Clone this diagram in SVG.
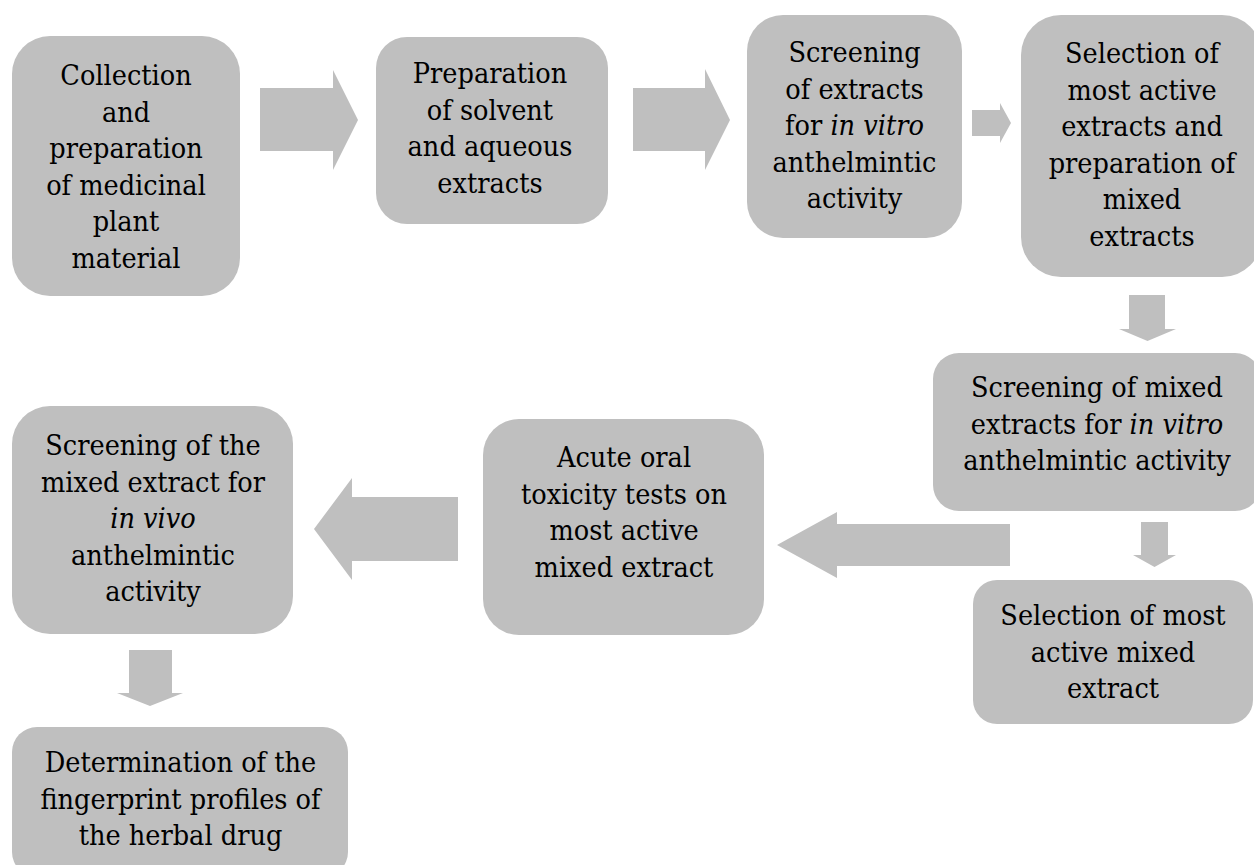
<svg xmlns="http://www.w3.org/2000/svg" width="1254" height="865" viewBox="0 0 1254 865">
<style>
.box{fill:#BFBFBF;}
.arr{fill:#BFBFBF;}
.t text{font-family:'DejaVu Serif Condensed','DejaVu Serif',serif;font-stretch:condensed;font-size:28.5px;fill:#000;text-anchor:middle;}
.i{font-style:italic;}
</style>
<rect width="1254" height="865" fill="#FFFFFF"/>
<g id="connectors">
<polygon class="arr" points="260,88 333,88 333,70 358,120 333,170 333,151 260,151"/>
<polygon class="arr" points="633,88 705,88 705,69 730,120 705,170 705,151 633,151"/>
<polygon class="arr" points="972,110 1000,110 1000,103 1011,123 1000,143 1000,136 972,136"/>
<polygon class="arr" points="1129,295 1165,295 1165,329 1176,329 1147.5,341 1119,329 1129,329"/>
<polygon class="arr" points="1141,522 1168,522 1168,555 1176,555 1154.5,567 1133,555 1141,555"/>
<polygon class="arr" points="1010,524 837,524 837,512 777,545 837,578 837,566 1010,566"/>
<polygon class="arr" points="458,497 352,497 352,478 314,529 352,580 352,561 458,561"/>
<polygon class="arr" points="129,650 172,650 172,693 183,693 150,706 117,693 129,693"/>
</g>
<g id="n1" class="t">
<rect class="box" x="12" y="36" width="228" height="260" rx="38"/>
<text x="126" y="85">Collection</text>
<text x="126" y="121.6">and</text>
<text x="126" y="158.2">preparation</text>
<text x="126" y="194.8">of medicinal</text>
<text x="126" y="231.4">plant</text>
<text x="126" y="268">material</text>
</g>
<g id="n2" class="t">
<rect class="box" x="376" y="37" width="232" height="187" rx="31"/>
<text x="490" y="83">Preparation</text>
<text x="490" y="119.6">of solvent</text>
<text x="490" y="156.2">and aqueous</text>
<text x="490" y="192.8">extracts</text>
</g>
<g id="n3" class="t">
<rect class="box" x="747" y="15" width="215" height="223" rx="36"/>
<text x="854.5" y="62">Screening</text>
<text x="854.5" y="98.6">of extracts</text>
<text x="854.5" y="135.2">for <tspan class="i">in vitro</tspan></text>
<text x="854.5" y="171.8">anthelmintic</text>
<text x="854.5" y="208.4">activity</text>
</g>
<g id="n4" class="t">
<rect class="box" x="1021" y="15" width="241" height="262" rx="40"/>
<text x="1142" y="63">Selection of</text>
<text x="1142" y="99.6">most active</text>
<text x="1142" y="136.2">extracts and</text>
<text x="1142" y="172.8">preparation of</text>
<text x="1142" y="209.4">mixed</text>
<text x="1142" y="246">extracts</text>
</g>
<g id="n5" class="t">
<rect class="box" x="933" y="353" width="328" height="158" rx="26"/>
<text x="1097" y="397">Screening of mixed</text>
<text x="1097" y="433.6">extracts for <tspan class="i">in vitro</tspan></text>
<text x="1097" y="470.2">anthelmintic activity</text>
</g>
<g id="n6" class="t">
<rect class="box" x="973" y="580" width="280" height="144" rx="24"/>
<text x="1113" y="625">Selection of most</text>
<text x="1113" y="661.6">active mixed</text>
<text x="1113" y="698.2">extract</text>
</g>
<g id="n7" class="t">
<rect class="box" x="483" y="419" width="281" height="216" rx="36"/>
<text x="624" y="467">Acute oral</text>
<text x="624" y="503.6">toxicity tests on</text>
<text x="624" y="540.2">most active</text>
<text x="624" y="576.8">mixed extract</text>
</g>
<g id="n8" class="t">
<rect class="box" x="12" y="406" width="281" height="228" rx="38"/>
<text x="153" y="455">Screening of the</text>
<text x="153" y="491.6">mixed extract for</text>
<text x="153" y="528.2" class="i">in vivo</text>
<text x="153" y="564.8">anthelmintic</text>
<text x="153" y="601.4">activity</text>
</g>
<g id="n9" class="t">
<rect class="box" x="12" y="727" width="336" height="150" rx="25"/>
<text x="180.5" y="772">Determination of the</text>
<text x="180.5" y="808.6">fingerprint profiles of</text>
<text x="180.5" y="845.2">the herbal drug</text>
</g>
</svg>
